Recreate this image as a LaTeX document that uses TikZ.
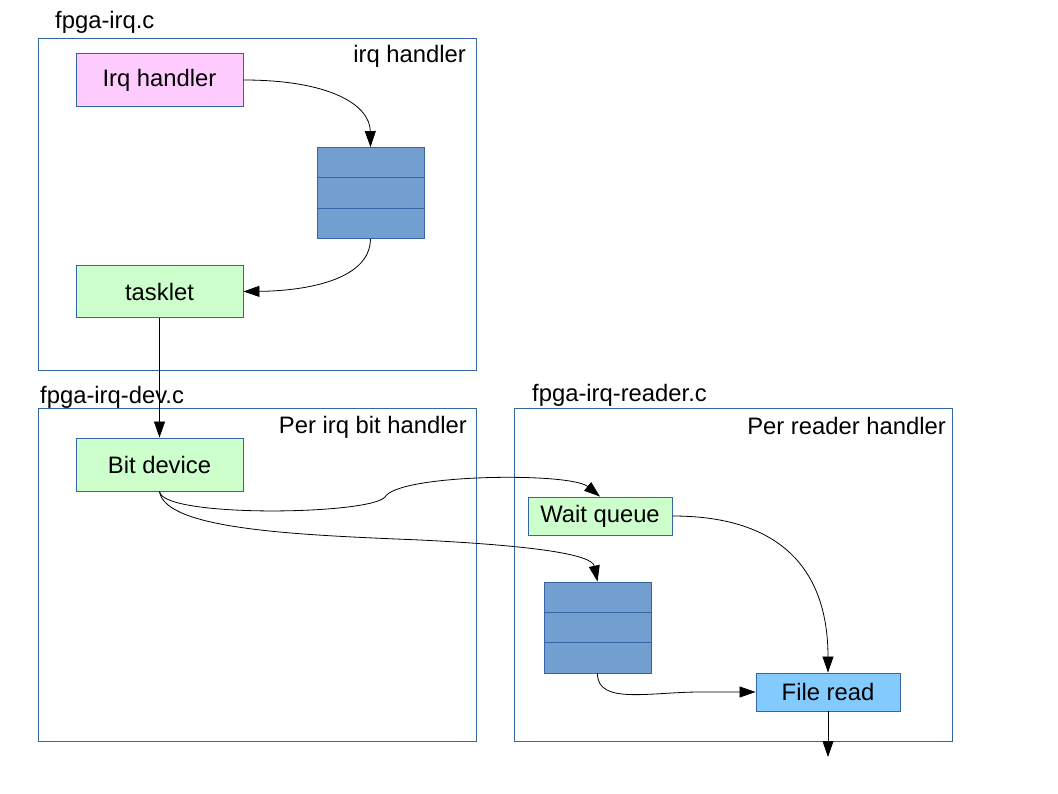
\documentclass[tikz,border=0pt]{standalone}
\usepackage{fontspec}
\setmainfont{Liberation Sans}
\usetikzlibrary{arrows.meta}
\usetikzlibrary{positioning,calc}
\definecolor{lineblue}{HTML}{3465A4}
\definecolor{pinkfill}{HTML}{FFCCFF}
\definecolor{greenfill}{HTML}{CCFFCC}
\definecolor{fifofill}{HTML}{729FCF}
\definecolor{readfill}{HTML}{83CAFF}
\tikzset{
    block/.style={
        draw=lineblue,
        rectangle,
        line width=0.9pt,
        minimum width=167pt,
        minimum height=53pt,
        inner sep=0pt,
        font=\fontsize{23.8}{28}\selectfont
    },
    fifo/.style={
        draw=lineblue,
        fill=fifofill,
        line width=0.9pt,
        minimum width=107pt,
        minimum height=91pt
    },
    filebox/.style={
        draw=lineblue,
        line width=0.9pt,
        minimum width=438pt,
        minimum height=333pt
    },
    title/.style={
        inner sep=0pt,
        font=\fontsize{23.8}{28}\selectfont
    },
    flow/.style={
        draw,
        -{Triangle[length=16pt, width=11pt]},
        line width=0.8pt
    }
}

\begin{document}
\begin{tikzpicture}[x=1pt, y=-1pt]
    \useasboundingbox (0,0) rectangle (1058,794);

    % Source files
    \node[filebox] (irqfile) at (257,204) [minimum height=332pt] {};
    \node[filebox] (devfile) at (257,574.5) {};
    \node[filebox] (readerfile) at (733,574.5) {};

    \node[title, anchor=base west] (irqname) at (55,29) {fpga-irq.c};
    \node[title, anchor=base east] (irqrole) at (466,63) {irq handler};
    \node[title, anchor=base west] (devname) at (40,403) {fpga-irq-dev.c};
    \node[title, anchor=base east] (devrole) at (467,433) {Per irq bit handler};
    \node[title, anchor=base west] (readername) at (532,401) {fpga-irq-reader.c};
    \node[title, anchor=base east] (readerrole) at (946,434) {Per reader handler};

    % Blocks
    \node[block, fill=pinkfill] (irq) at (159.5,80) {Irq handler};
    \node[fifo] (fifoA) at (370.5,193) {};
    \node[block, fill=greenfill, minimum height=52pt] (tasklet) at (159.5,291.5) {tasklet};
    \node[block, fill=greenfill] (bitdev) at (159.5,464.5) {Bit device};
    \node[block, fill=greenfill, minimum width=144pt, minimum height=38pt] (waitq) at (600,516) {Wait queue};
    \node[fifo] (fifoB) at (597.5,627.5) {};
    \node[block, fill=readfill, minimum width=144pt, minimum height=38pt] (fileread) at (828,692) {File read};
    \coordinate (readout) at (828,757);

    % Fifo slots
    \foreach \q in {fifoA,fifoB}
        \foreach \f in {1,2}
            \draw[lineblue, line width=0.9pt]
                ($(\q.north west)!\f/3!(\q.south west)$) -- ($(\q.north east)!\f/3!(\q.south east)$);

    % Arrows
    \draw[flow] (irq.east) .. controls (330,80) and (370,105) .. (fifoA.north);
    \draw[flow] (fifoA.south) .. controls (370,282) and (300,291) .. (tasklet.east);
    \draw[flow] (tasklet.south) -- (bitdev.north);
    \draw[flow] (bitdev.south) .. controls (162,518) and (370,515) .. (385,497)
        .. controls (398,474) and (570,472) .. (waitq.north);
    \draw[flow] (bitdev.south) .. controls (165,530) and (300,535) .. (420,540)
        .. controls (540,546) and (592,555) .. (fifoB.north);
    \draw[flow] (waitq.east) .. controls (800,516) and (828,590) .. (fileread.north);
    \draw[flow] (fifoB.south) .. controls (597,705) and (650,692) .. (700,692) -- (fileread.west);
    \draw[flow] (fileread.south) -- (readout);
\end{tikzpicture}
\end{document}
